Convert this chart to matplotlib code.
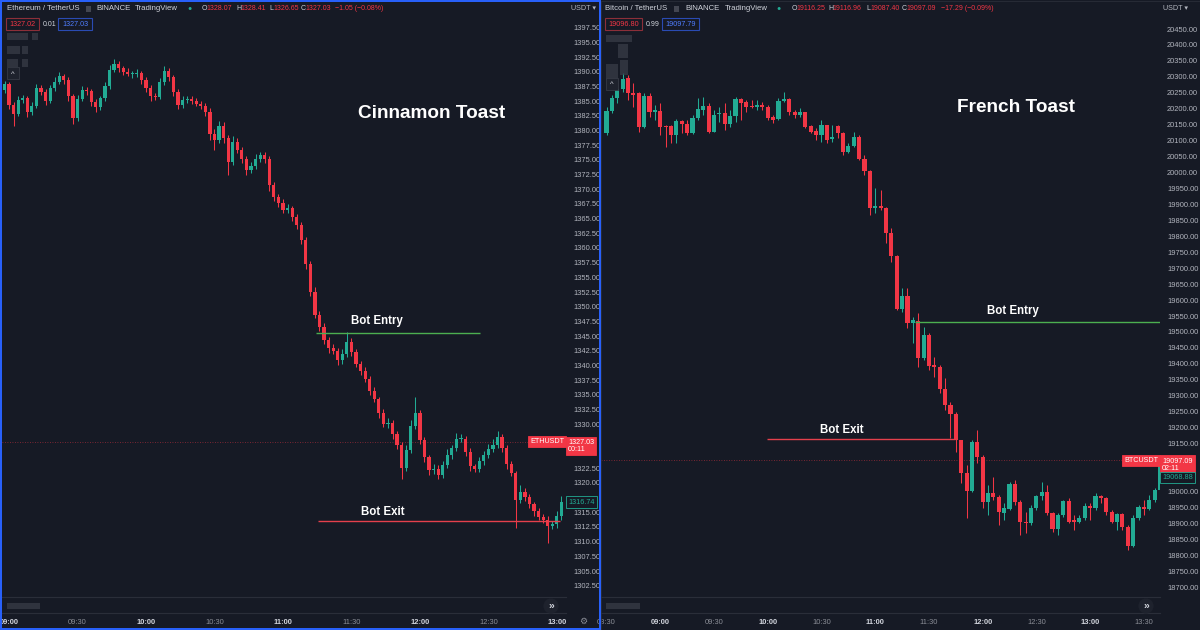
import matplotlib
matplotlib.use("Agg")
import matplotlib.pyplot as plt
from matplotlib.patches import Rectangle
import numpy as np

W, H = 1200, 630
BG = "#161a25"
UP = "#22ab94"
DOWN = "#f23645"
TXT = "#b2b5be"
BRIGHT = "#d1d4dc"
DIM = "#8a8d96"
SEP = "#2a2e39"
ENTRY = "#4caf50"
EXIT = "#e5404c"
BLUE = "#2962ff"

plt.rcParams.update({
    "font.family": ["Liberation Sans", "DejaVu Sans"],
    "font.size": 5.4,
})

# ---------------- ETH / USDT (2-minute candles, minutes after 09:00)
eth_open0 = 1386.9
eth_close = [
    1387.9, 1384.3, 1382.8, 1385.2, 1385.5, 1383.2, 1384.2, 1387.2, 1386.6, 1385.0,
    1387.2, 1388.3, 1389.3, 1388.6, 1385.9, 1382.1, 1385.4, 1386.9, 1386.7, 1384.9,
    1384.0, 1385.5, 1387.6, 1390.3, 1391.3, 1390.6, 1390.0, 1389.6, 1389.6, 1389.8,
    1388.6, 1387.2, 1385.9, 1385.7, 1388.3, 1390.1, 1389.1, 1386.6, 1384.3, 1385.2,
    1385.4, 1385.0, 1384.5, 1384.2, 1383.2, 1379.4, 1378.4, 1380.8, 1378.7, 1374.6,
    1378.1, 1376.7, 1375.2, 1373.3, 1374.0, 1375.2, 1375.8, 1375.2, 1370.7, 1368.7,
    1367.7, 1366.5, 1366.8, 1365.3, 1363.9, 1361.4, 1357.3, 1352.5, 1348.6, 1346.6,
    1344.3, 1343.0, 1342.5, 1340.9, 1342.0, 1344.0, 1342.3, 1340.3, 1339.1, 1337.7,
    1335.7, 1334.3, 1331.9, 1330.0, 1330.2, 1328.3, 1326.5, 1322.6, 1325.6, 1329.7,
    1331.9, 1327.3, 1324.4, 1322.2, 1322.4, 1321.4, 1323.1, 1324.8, 1326.0, 1327.5,
    1327.5, 1325.3, 1322.9, 1322.4, 1323.7, 1324.8, 1325.8, 1326.5, 1327.8, 1326.0,
    1323.2, 1321.7, 1317.1, 1318.5, 1317.6, 1316.4, 1315.2, 1314.2, 1313.7, 1312.7,
    1313.0, 1314.4, 1316.74,
]
eth_up_wick = [
    0.6, 0.4, 0.5, 0.7, 0.5, 0.4, 0.6, 0.8, 0.5, 0.4,
    0.5, 0.8, 0.6, 0.4, 0.5, 0.4, 0.6, 0.7, 0.5, 0.4,
    0.5, 0.4, 0.6, 0.9, 0.8, 0.5, 0.4, 0.6, 0.5, 0.7,
    0.4, 0.5, 0.6, 0.5, 0.7, 0.9, 0.5, 0.4, 0.5, 0.6,
    0.5, 0.4, 0.6, 0.5, 0.4, 0.6, 0.8, 0.9, 0.6, 0.5,
    0.9, 0.6, 0.5, 0.4, 0.7, 0.8, 0.6, 0.5, 0.4, 0.6,
    0.5, 0.6, 0.7, 0.4, 0.5, 0.6, 0.4, 0.5, 0.8, 0.6,
    0.7, 0.5, 0.6, 0.4, 0.8, 1.7, 0.6, 0.5, 0.4, 0.6,
    0.5, 0.6, 0.4, 0.7, 0.9, 0.5, 0.6, 0.4, 0.8, 1.0,
    2.7, 0.6, 0.5, 0.4, 0.8, 0.6, 0.7, 0.9, 0.5, 1.0,
    0.8, 0.5, 0.6, 0.4, 0.7, 0.6, 0.8, 0.9, 1.0, 0.5,
    0.5, 0.6, 0.4, 1.2, 0.6, 0.5, 0.4, 0.6, 0.5, 0.7,
    0.6, 0.8, 1.0,
]
eth_lo_wick = [
    0.5, 0.6, 2.0, 0.4, 0.6, 0.9, 0.5, 0.4, 0.6, 0.7,
    0.4, 0.5, 0.4, 0.6, 0.8, 1.0, 0.5, 0.4, 0.6, 0.7,
    0.8, 0.5, 0.4, 0.5, 0.4, 0.6, 0.5, 0.4, 0.6, 0.5,
    0.6, 0.7, 0.9, 0.5, 0.4, 0.5, 0.6, 0.8, 0.7, 0.5,
    0.6, 0.5, 0.4, 0.6, 0.7, 1.0, 1.7, 0.5, 0.8, 2.2,
    0.5, 0.6, 0.7, 0.9, 0.6, 0.5, 0.6, 0.8, 1.0, 0.7,
    0.8, 0.6, 0.5, 0.7, 0.6, 0.8, 0.9, 0.7, 0.6, 0.8,
    0.6, 0.8, 0.5, 0.9, 0.6, 0.5, 0.7, 0.6, 0.8, 0.5,
    0.7, 0.6, 0.9, 0.5, 0.6, 0.8, 0.7, 2.0, 0.6, 0.5,
    0.5, 0.7, 0.8, 0.9, 0.6, 0.8, 0.5, 0.6, 0.7, 0.5,
    0.6, 0.7, 0.8, 0.6, 0.5, 0.7, 0.6, 0.5, 0.6, 0.7,
    0.8, 0.6, 4.8, 0.5, 0.7, 0.6, 0.8, 0.5, 0.6, 3.0,
    0.5, 0.6, 0.7,
]
eth_last = 1327.03
eth_entry, eth_exit = 1345.6, 1313.5
eth_entry_span = [134.5, 206.3]
eth_exit_span = [135.3, 241.3]
eth_ticks = [0, 30, 60, 90, 120, 150, 180, 210, 240]
eth_tick_labels = ["09:00", "09:30", "10:00", "10:30", "11:00", "11:30", "12:00", "12:30", "13:00"]

# ---------------- BTC / USDT (3-minute candles, minutes after 08:30)
btc_open = [
    20124, 20193, 20234, 20262, 20296, 20249, 20249, 20143, 20240, 20190,
    20193, 20146, 20146, 20118, 20162, 20152, 20124, 20171, 20196, 20209,
    20127, 20183, 20187, 20152, 20177, 20231, 20221, 20209, 20205, 20212,
    20205, 20174, 20168, 20224, 20231, 20190, 20180, 20190, 20146, 20130,
    20118, 20149, 20105, 20146, 20124, 20064, 20083, 20111, 20042, 20005,
    19889, 19895, 19889, 19810, 19738, 19572, 19613, 19528, 19534, 19418,
    19490, 19396, 19390, 19321, 19271, 19243, 19161, 19058, 19001, 19155,
    19108, 18967, 18995, 18982, 18932, 18945, 19023, 18967, 18904, 18901,
    18948, 18986, 18998, 18932, 18882, 18926, 18970, 18910, 18904, 18917,
    18954, 18948, 18986, 18979, 18935, 18904, 18929, 18888, 18829, 18917,
    18951, 18945, 18973, 19004,
]
btc_high = [
    20205, 20243, 20274, 20312, 20306, 20281, 20252, 20249, 20249, 20212,
    20218, 20149, 20149, 20168, 20165, 20165, 20180, 20234, 20237, 20218,
    20196, 20205, 20218, 20196, 20237, 20234, 20227, 20227, 20227, 20221,
    20212, 20180, 20234, 20252, 20234, 20196, 20202, 20190, 20149, 20140,
    20165, 20149, 20149, 20149, 20127, 20093, 20127, 20118, 20055, 20008,
    19951, 19945, 19892, 19826, 19741, 19638, 19638, 19547, 19559, 19516,
    19497, 19421, 19396, 19356, 19280, 19249, 19161, 19083, 19161, 19192,
    19114, 19020, 19045, 18989, 18964, 19029, 19036, 18973, 18935, 18957,
    18989, 19029, 19020, 18935, 18932, 18973, 18979, 18926, 18926, 18964,
    18964, 18995, 18989, 18982, 18942, 18932, 18932, 18895, 18926, 18957,
    18973, 18989, 19011, 19105,
]
btc_low = [
    20118, 20187, 20218, 20252, 20227, 20205, 20127, 20140, 20174, 20165,
    20118, 20080, 20093, 20093, 20124, 20118, 20121, 20165, 20180, 20124,
    20127, 20158, 20133, 20143, 20158, 20165, 20190, 20202, 20196, 20196,
    20165, 20155, 20165, 20221, 20180, 20171, 20174, 20140, 20124, 20102,
    20096, 20093, 20096, 20108, 20055, 20061, 20080, 20039, 19992, 19867,
    19873, 19882, 19779, 19719, 19569, 19563, 19512, 19465, 19390, 19412,
    19381, 19359, 19309, 19255, 19167, 19123, 19026, 18917, 18998, 19089,
    18948, 18926, 18973, 18895, 18910, 18942, 18957, 18863, 18870, 18895,
    18942, 18973, 18926, 18873, 18863, 18920, 18901, 18879, 18901, 18910,
    18910, 18942, 18964, 18926, 18901, 18879, 18879, 18816, 18826, 18910,
    18926, 18942, 18967, 18998,
]
btc_close = [
    20193, 20234, 20262, 20293, 20249, 20243, 20143, 20240, 20190, 20196,
    20143, 20143, 20118, 20162, 20152, 20124, 20171, 20199, 20209, 20127,
    20180, 20187, 20152, 20177, 20231, 20218, 20205, 20205, 20212, 20205,
    20171, 20165, 20224, 20231, 20190, 20180, 20190, 20143, 20127, 20118,
    20149, 20102, 20111, 20124, 20064, 20083, 20111, 20042, 20005, 19889,
    19895, 19889, 19810, 19738, 19572, 19613, 19528, 19537, 19418, 19490,
    19393, 19390, 19321, 19271, 19243, 19161, 19058, 19001, 19155, 19108,
    18967, 18995, 18982, 18935, 18948, 19023, 18967, 18904, 18901, 18948,
    18986, 18998, 18932, 18882, 18926, 18970, 18904, 18904, 18917, 18954,
    18948, 18986, 18979, 18935, 18904, 18929, 18888, 18829, 18917, 18951,
    18945, 18973, 19004, 19097,
]
btc_last = 19097.09
btc_second = 19068.88
btc_entry, btc_exit = 19531, 19164
btc_entry_span = [172.2, 309.0]
btc_exit_span = [89.6, 194.6]
btc_ticks = [0, 30, 60, 90, 120, 150, 180, 210, 240, 270, 300]
btc_tick_labels = ["08:30", "09:00", "09:30", "10:00", "10:30", "11:00",
                   "11:30", "12:00", "12:30", "13:00", "13:30"]


# ---------------- helpers
fig = plt.figure(figsize=(12, 6.3), dpi=100, facecolor=BG)


def px(x0, y0, x1, y1):
    return [x0 / W, 1 - y1 / H, (x1 - x0) / W, (y1 - y0) / H]


def ftext(x, y, s, **kw):
    kw.setdefault("va", "center")
    kw.setdefault("ha", "left")
    kw.setdefault("color", BRIGHT)
    return fig.text(x / W, 1 - y / H, s, **kw)


def frect(x0, y0, x1, y1, **kw):
    fig.add_artist(Rectangle((x0 / W, 1 - y1 / H), (x1 - x0) / W, (y1 - y0) / H,
                             transform=fig.transFigure, **kw))


def candles(ax, t, o, h, l, c, width, min_h):
    o, h, l, c = map(np.asarray, (o, h, l, c))
    col = np.where(c >= o, UP, DOWN)
    ax.vlines(t, l, h, colors=col, linewidth=0.75, zorder=2)
    ax.bar(t, np.maximum(np.abs(c - o), min_h), width=width,
           bottom=np.minimum(o, c), color=col, linewidth=0, zorder=3)


def style_pane(ax, ind, ylim, yticks, hidden, ticks, labels, xlim):
    for a in (ax, ind):
        a.set_facecolor(BG)
        for s in a.spines.values():
            s.set_visible(False)
    ind.spines["top"].set_visible(True)
    ind.spines["bottom"].set_visible(True)
    ind.spines["top"].set_color(SEP)
    ind.spines["bottom"].set_color(SEP)
    ax.set_ylim(*ylim)
    ax.set_xlim(*xlim)
    ax.yaxis.tick_right()
    # labels covered by the price tags are not shown, as in TradingView
    shown = [v for v in yticks if not any(lo <= v <= hi for lo, hi in hidden)]
    ax.set_yticks(shown)
    ax.set_yticklabels(["%.2f" % v for v in shown])
    ax.tick_params(axis="y", length=0, pad=5, labelsize=5.4, labelcolor=TXT)
    ax.tick_params(axis="x", bottom=False, labelbottom=False)
    ind.set_yticks([])
    ind.set_xticks(ticks)
    ind.set_xticklabels(labels)
    ind.tick_params(axis="x", length=0, pad=4, labelsize=5.4)
    for lab in ind.get_xticklabels():
        if lab.get_text().endswith(":00"):
            lab.set_color(BRIGHT)
            lab.set_fontweight("bold")
        else:
            lab.set_color(DIM)


def price_tag(ax, price, text, fc, ec, color, dy=0, xoff=1.5, ha="left"):
    ax.annotate(text, xy=(1, price), xycoords=("axes fraction", "data"),
                xytext=(xoff, dy), textcoords="offset points", ha=ha, va="center",
                fontsize=5.2, color=color, linespacing=1.05, annotation_clip=False,
                bbox=dict(boxstyle="square,pad=0.3", fc=fc, ec=ec, lw=0.6), zorder=10)


# ---------------- left pane: ETH
ax_l = fig.add_axes(px(2, 0, 566, 597))
ind_l = fig.add_axes(px(2, 597, 566, 613), sharex=ax_l)
style_pane(ax_l, ind_l, (1300.58, 1402.22), np.arange(1302.5, 1398, 2.5),
           [(eth_last - 2.5, eth_last + 1.0), (eth_close[-1] - 1.0, eth_close[-1] + 1.0)],
           eth_ticks, eth_tick_labels, (-3.1, 244))

eth_c = np.asarray(eth_close)
eth_o = np.r_[eth_open0, eth_c[:-1]]
eth_h = np.maximum(eth_o, eth_c) + np.asarray(eth_up_wick)
eth_lo = np.minimum(eth_o, eth_c) - np.asarray(eth_lo_wick)
eth_t = -2 + 2 * np.arange(len(eth_c))
candles(ax_l, eth_t, eth_o, eth_h, eth_lo, eth_c, 1.4, 0.15)

ax_l.axhline(eth_last, color=DOWN, lw=0.6, ls=(0, (1, 2)), alpha=0.6, zorder=1)
ax_l.hlines(eth_entry, *eth_entry_span, color=ENTRY, lw=1.0, zorder=4)
ax_l.hlines(eth_exit, *eth_exit_span, color=EXIT, lw=1.0, zorder=4)
ax_l.text(161.2, 1347.6, "Bot Entry", ha="center", va="center", color="white",
          fontsize=8.3, fontweight="bold", zorder=6)
ax_l.text(163.8, 1315.1, "Bot Exit", ha="center", va="center", color="white",
          fontsize=8.3, fontweight="bold", zorder=6)

price_tag(ax_l, eth_last, "ETHUSDT", DOWN, DOWN, "white", xoff=-1.5, ha="right")
price_tag(ax_l, eth_last, "1327.03\n00:11", DOWN, DOWN, "white", dy=-3)
price_tag(ax_l, eth_close[-1], "1316.74", BG, UP, UP)

# ---------------- right pane: BTC
ax_r = fig.add_axes(px(601, 0, 1160, 597))
ind_r = fig.add_axes(px(601, 597, 1160, 613), sharex=ax_r)
style_pane(ax_r, ind_r, (18669, 20541), np.arange(18700, 20451, 50),
           [(btc_last - 60, btc_last + 15)],
           btc_ticks, btc_tick_labels, (-3.1, 309))

btc_t = 3 * np.arange(len(btc_close))
candles(ax_r, btc_t, btc_open, btc_high, btc_low, btc_close, 2.3, 3)

ax_r.axhline(btc_last, color=DOWN, lw=0.6, ls=(0, (1, 2)), alpha=0.6, zorder=1)
ax_r.hlines(btc_entry, *btc_entry_span, color=ENTRY, lw=1.0, zorder=4)
ax_r.hlines(btc_exit, *btc_exit_span, color=EXIT, lw=1.0, zorder=4)
ax_r.text(227, 19566, "Bot Entry", ha="center", va="center", color="white",
          fontsize=8.3, fontweight="bold", zorder=6)
ax_r.text(131.4, 19193, "Bot Exit", ha="center", va="center", color="white",
          fontsize=8.3, fontweight="bold", zorder=6)

price_tag(ax_r, btc_last, "BTCUSDT", DOWN, DOWN, "white", xoff=-1.5, ha="right")
price_tag(ax_r, btc_last, "19097.09\n02:11", DOWN, DOWN, "white", dy=-3)
price_tag(ax_r, btc_second, "19068.88", BG, UP, UP, dy=-6)

# ---------------- titles
ftext(432, 113, "Cinnamon Toast", ha="center", color="white", fontsize=13.7, fontweight="bold")
ftext(1016, 107, "French Toast", ha="center", color="white", fontsize=13.7, fontweight="bold")


# ---------------- legends
def legend(x, name, gray_x, binance_x, tv_x, dot_x, ohlc, chg, chg_x, row2):
    ftext(x, 9, name, fontsize=5.6)
    frect(gray_x, 6, gray_x + 5, 12, color="#434651", lw=0)
    ftext(binance_x, 9, "BINANCE", fontsize=5.6)
    ftext(tv_x, 9, "TradingView", fontsize=5.6)
    ftext(dot_x, 9, "\u25cf", ha="center", color=UP, fontsize=5)
    for (lx, letter, val) in ohlc:
        ftext(lx, 9, letter, fontsize=5.0)
        ftext(lx + 4.5, 9, val, color=DOWN, fontsize=5.0)
    ftext(chg_x, 9, chg, color=DOWN, fontsize=5.0)
    (b1x0, b1x1, v1), (sx, sv), (b2x0, b2x1, v2) = row2
    frect(b1x0, 18, b1x1, 30, fill=False, ec="#8c2f39", lw=0.8)
    ftext((b1x0 + b1x1) / 2, 24, v1, ha="center", color=DOWN, fontsize=5.2)
    ftext(sx, 24, sv, color=BRIGHT, fontsize=5.0)
    frect(b2x0, 18, b2x1, 30, fill=False, ec="#2a4bb3", lw=0.8)
    ftext((b2x0 + b2x1) / 2, 24, v2, ha="center", color="#4f7dff", fontsize=5.2)


legend(7, "Ethereum / TetherUS", 86, 96, 135, 190,
       [(202, "O", "1328.07"), (236, "H", "1328.41"), (269, "L", "1326.65"), (301, "C", "1327.03")],
       "\u22121.05 (\u22120.08%)", 335,
       [(6, 39, "1327.02"), (43, "0.01"), (58, 92, "1327.03")])
legend(605, "Bitcoin / TetherUS", 674, 685, 725, 779,
       [(792, "O", "19116.25"), (828, "H", "19116.96"), (866, "L", "19087.40"), (902, "C", "19097.09")],
       "\u221217.29 (\u22120.09%)", 941,
       [(605, 642, "19096.80"), (646, "0.99"), (662, 699, "19097.79")])

ftext(571, 9, "USDT \u25be", color=TXT, fontsize=5.2)
ftext(1163, 9, "USDT \u25be", color=TXT, fontsize=5.2)

# blurred indicator names
for (x0, y0, x1, y1) in [(7, 33, 28, 40), (32, 33, 38, 40), (7, 46, 20, 54), (22, 46, 28, 54),
                         (7, 59, 18, 67), (22, 59, 28, 67),
                         (606, 35, 632, 42), (618, 44, 628, 58), (620, 60, 628, 75), (606, 64, 618, 80)]:
    frect(x0, y0, x1, y1, color="#3a3e4a", alpha=0.7, lw=0)
frect(7, 603, 40, 609, color="#3a3e4a", alpha=0.7, lw=0)
frect(606, 603, 640, 609, color="#3a3e4a", alpha=0.7, lw=0)

# collapse buttons and scroll buttons
for (bx, by) in [(13, 73), (612, 84)]:
    frect(bx - 6, by - 6, bx + 6, by + 6, fc="#1e222d", ec="#363a45", lw=0.6)
    ftext(bx, by + 1, "^", ha="center", color=BRIGHT, fontsize=5.5)
for bx in (551, 1146):
    ftext(bx, 606, "\u00bb", ha="center", color=BRIGHT, fontsize=7.5, fontweight="bold",
          bbox=dict(boxstyle="circle,pad=0.25", fc="#1e222d", ec="none"))
ftext(583, 621, "\u2699", ha="center", color=DIM, fontsize=6.5)

# pane borders
frect(1, 1, 600, 629, fill=False, ec=BLUE, lw=1.4)
frect(601, 0.5, 1199.5, 629.5, fill=False, ec=SEP, lw=0.6)

fig.savefig("out.png", dpi=100, facecolor=BG)
